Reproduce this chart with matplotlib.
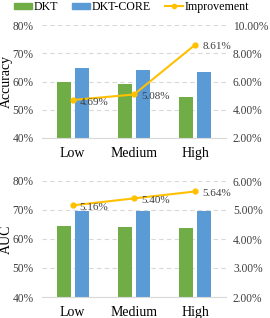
import matplotlib
matplotlib.use("Agg")
import matplotlib.pyplot as plt
import numpy as np
from matplotlib.ticker import FuncFormatter

categories = ["Low", "Medium", "High"]
acc_dkt = [60.0, 59.2, 54.6]
acc_core = [64.7, 64.1, 63.2]
acc_impr = [4.69, 5.08, 8.61]
auc_dkt = [64.4, 64.1, 63.8]
auc_core = [69.6, 69.6, 69.5]
auc_impr = [5.16, 5.40, 5.64]

GREEN = "#70AD47"
BLUE = "#5B9BD5"
ORANGE = "#FFC000"
plt.rcParams['font.family'] = ['Liberation Serif', 'DejaVu Serif']

W, H = 270, 318
fig = plt.figure(figsize=(W/100, H/100), dpi=100)

def make(ax_rect, dkt, core, impr, ylabel, rlim, rticks):
    ax = fig.add_axes(ax_rect)
    x = np.arange(len(categories))
    bw = 0.23
    ax.bar(x - 0.148, [v - 40 for v in dkt], bw, bottom=40, color=GREEN, zorder=2)
    ax.bar(x + 0.148, [v - 40 for v in core], bw, bottom=40, color=BLUE, zorder=2)
    ax.set_xlim(-0.5, 2.5)
    ax.set_ylim(40, 80)
    ax.set_yticks([40, 50, 60, 70, 80])
    ax.yaxis.set_major_formatter(FuncFormatter(lambda v, p: f"{v:.0f}%"))
    ax.set_xticks(x)
    ax.set_xticklabels(categories, fontsize=10)
    ax.grid(axis='y', linestyle=(0, (4, 3)), color='#D9D9D9', linewidth=0.8, zorder=0)
    for s in ['top', 'left', 'right']:
        ax.spines[s].set_visible(False)
    ax.spines['bottom'].set_color('#D9D9D9')
    ax.tick_params(axis='both', length=0)
    ax.tick_params(axis='y', labelsize=8.3, pad=6, labelcolor='#404040')
    ax.tick_params(axis='x', pad=6.5)
    ax.set_ylabel(ylabel, fontsize=10)
    ax.yaxis.set_label_coords(-29/184, 0.5)
    ax2 = ax.twinx()
    ax2.plot(x, impr, color=ORANGE, marker='o', markersize=3.5, linewidth=1.5, zorder=3)
    ax2.set_ylim(*rlim)
    ax2.set_yticks(rticks)
    ax2.yaxis.set_major_formatter(FuncFormatter(lambda v, p: f"{v:.2f}%"))
    ax2.tick_params(axis='y', length=0, labelsize=8.3, pad=5, labelcolor='#404040')
    for s in ['top', 'left', 'right', 'bottom']:
        ax2.spines[s].set_visible(False)
    for xi, v in zip(x, impr):
        ax2.annotate(f"{v:.2f}%", (xi, v), xytext=(5, -1.5), textcoords='offset points',
                     fontsize=8, va='center', ha='left', color='#404040')
    return ax, ax2

ax1, ax1r = make([42/W, 180/H, 184/W, 113/H], acc_dkt, acc_core, acc_impr, "Accuracy",
                 (2, 10), [2, 4, 6, 8, 10])
ax2, ax2r = make([42/W, 21/H, 184/W, 116/H], auc_dkt, auc_core, auc_impr, "AUC",
                 (2, 6), [2, 3, 4, 5, 6])

from matplotlib.patches import Patch
from matplotlib.lines import Line2D
handles = [Patch(color=GREEN), Patch(color=BLUE),
           Line2D([], [], color=ORANGE, marker='o', markersize=3, linewidth=1.5)]
fig.legend(handles, ["DKT", "DKT-CORE", "Improvement"], loc='center left',
           bbox_to_anchor=(14/W, 1 - 7/H), ncol=3, frameon=False, fontsize=8.6,
           handlelength=1.47, handleheight=0.4, handletextpad=0.15,
           columnspacing=1.2, borderpad=0, borderaxespad=0)

fig.savefig("out.png", dpi=100)
